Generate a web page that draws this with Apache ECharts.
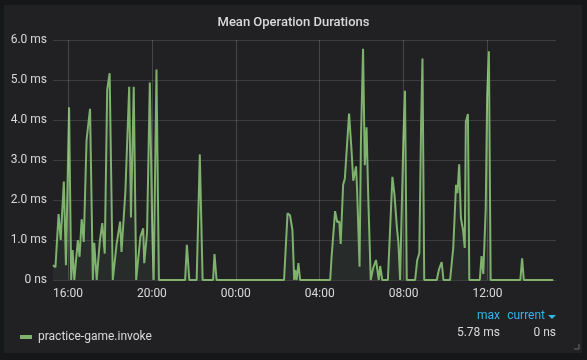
<!DOCTYPE html>
<html>
<head>
<meta charset="utf-8">
<script src="https://cdn.jsdelivr.net/npm/echarts@6/dist/echarts.min.js"></script>
<style>
html,body{margin:0;padding:0;background:#161719;}
#chart{width:587px;height:360px;}
</style>
</head>
<body>
<div id="chart"></div>
<script>
// ---- data ----
const seriesName = 'practice-game.invoke';
const times = ['15:17','15:24','15:33','15:39','15:48','15:54','16:03','16:09','16:13','16:18',
'16:28','16:33','16:39','16:45','16:53','17:03','17:11','17:15','17:22','17:31',
'17:38','17:45','17:52','17:59','18:08','18:13','18:19','18:29','18:33','18:44',
'18:55','19:00','19:08','19:15','19:18','19:27','19:35','19:38','19:46','19:54',
'20:01','20:05','20:13','20:20','21:35','21:40','21:47','22:08','22:17','22:25',
'22:55','22:59','23:05','02:18','02:28','02:35','02:42','02:47','02:50','02:54',
'02:59','03:04','04:30','04:34','04:44','04:50','04:56','05:00','05:07','05:12',
'05:24','05:31','05:36','05:44','05:47','05:54','05:58','06:04','06:09','06:14',
'06:19','06:26','06:33','06:41','06:45','06:49','06:53','06:59','07:15','07:28',
'07:34','07:41','07:45','07:50','07:55','07:59','08:04','08:09','08:33','08:39',
'08:45','08:50','08:54','08:59','09:35','09:41','09:49','09:54','10:13','10:22',
'10:30','10:34','10:39','10:44','10:50','10:55','10:58','11:04','11:08','11:38',
'11:43','11:48','11:55','11:59','12:04','12:09','13:34','13:39','13:44','15:08'];
const values = [0.37,0.32,1.65,1.0,2.46,0.37,4.32,0,0.75,0,
1.0,0.58,1.52,0.95,3.5,4.28,0,0.93,0,0.98,
1.42,0.66,4.75,5.17,0,0,0.9,1.46,0.7,2.2,
4.83,1.56,4.83,0,0,1.08,1.29,0.42,1.17,4.94,
1.2,0,5.26,0,0,0.88,0,0,3.14,0,
0,0.65,0,0,1.67,1.62,1.25,0,0.25,0,
0.42,0,0,0.58,1.72,1.45,1.46,0.9,2.38,2.54,
4.16,3.25,2.48,2.84,2.25,0.33,3.5,5.78,2.87,3.82,
2.04,0,0.3,0.5,0.45,0,0.35,0,0,2.58,
2.12,1.3,0.95,0,0,3.4,4.73,0,0,0.5,
0.67,3.87,5.54,0,0,0.26,0.45,0,0,0.8,
2.38,2.17,2.89,1.55,1.25,0.8,3.95,4.15,0,0,
0.6,0.15,1.8,4.6,5.72,0,0,0.54,0,0];
const rangeStart = '15:17';
const rangeEnd = '15:16';
const xTickLabels = ['16:00','20:00','00:00','04:00','08:00','12:00'];

// ---- build ----
function toMin(s){const p=s.split(':');return (+p[0])*60+(+p[1]);}
const data = [];
let prev = -1, offset = 0;
times.forEach((t,i)=>{
  let m = toMin(t)+offset;
  if (m < prev) { offset += 1440; m += 1440; }
  prev = m;
  data.push([m, values[i]]);
});
const xMin = toMin(rangeStart);
let xMax = toMin(rangeEnd); if (xMax <= xMin) xMax += 1440;
const tickVals = [];
let off2 = 0, pv = -1;
xTickLabels.forEach(t=>{let m=toMin(t)+off2; if(m<pv){off2+=1440;m+=1440;} pv=m; tickVals.push(m);});
function fmtHM(v){v=((Math.round(v)%1440)+1440)%1440;const h=Math.floor(v/60),m=v%60;return (h<10?'0':'')+h+':'+(m<10?'0':'')+m;}
function fmtMs(v){ if (v===0) return '0 ns'; return v.toFixed(2).replace(/0$/,'')+' ms'; }
const maxVal = Math.max.apply(null, values);
const curVal = values[values.length-1];

const gridColor = 'rgba(255,255,255,0.13)';
const textColor = '#d8d9da';
const font = 'Roboto, "Noto Sans", sans-serif';

const chart = echarts.init(document.getElementById('chart'), null, {renderer:'canvas'});
chart.setOption({
  backgroundColor: '#161719',
  animation: false,
  title: {
    text: 'Mean Operation Durations',
    left: 'center', top: 11,
    textStyle: {color: textColor, fontSize: 13, fontWeight: 500, fontFamily: font}
  },
  grid: {left: 53, right: 31, top: 40, bottom: 80},
  xAxis: {
    type: 'value', min: xMin, max: xMax,
    axisLine: {show: false}, axisTick: {show: false},
    splitLine: {show: false},
    axisLabel: {customValues: tickVals, formatter: fmtHM, color: textColor, fontSize: 12, fontFamily: font, margin: 8}
  },
  yAxis: {
    type: 'value', min: 0, max: 6, interval: 1,
    axisLine: {show: false}, axisTick: {show: false},
    splitLine: {lineStyle: {color: gridColor, width: 1}},
    axisLabel: {formatter: v => v===0 ? '0 ns' : v.toFixed(1)+' ms', color: textColor, fontSize: 12, fontFamily: font, margin: 6}
  },
  legend: {
    data: [seriesName], left: 15, top: 326, icon: 'rect', itemWidth: 12, itemHeight: 4, itemGap: 6,
    textStyle: {color: textColor, fontSize: 12, fontFamily: font, padding: [0,0,0,1]}
  },
  series: [{
    name: seriesName, type: 'line', data: data, showSymbol: false, symbol: 'none',
    lineStyle: {color: '#7eb26d', width: 2},
    itemStyle: {color: '#7eb26d'},
    areaStyle: {color: 'rgba(126,178,109,0.1)'},
    z: 3,
    markLine: {
      silent: true, symbol: ['none','none'], label: {show: false},
      lineStyle: {color: 'rgba(255,255,255,0.17)', type: 'solid', width: 1},
      emphasis: {disabled: true},
      data: tickVals.map(v => ({xAxis: v}))
    }
  }],
  graphic: [
    {type: 'rect', z: -10, silent: true, shape: {x: 4, y: 5, width: 578, height: 348}, style: {fill: '#212124'}},
    {type: 'text', right: 87, top: 310, style: {text: 'max', fill: '#33b5e5', fontSize: 12, fontFamily: font, textAlign: 'right'}},
    {type: 'text', right: 42, top: 310, style: {text: 'current', fill: '#33b5e5', fontSize: 12, fontFamily: font}},
    {type: 'polygon', silent: true, shape: {points: [[548,315],[556,315],[552,319]]}, style: {fill: '#33b5e5'}},
    {type: 'text', right: 87, top: 327, style: {text: fmtMs(maxVal), fill: textColor, fontSize: 12, fontFamily: font}},
    {type: 'text', right: 31, top: 327, style: {text: fmtMs(curVal), fill: textColor, fontSize: 12, fontFamily: font}},
    {type: 'polyline', silent: true, shape: {points: [[579,344],[579,349],[574,349]]}, style: {stroke: '#6a6a6a', lineWidth: 1, fill: null}}
  ]
});
</script>
</body>
</html>
